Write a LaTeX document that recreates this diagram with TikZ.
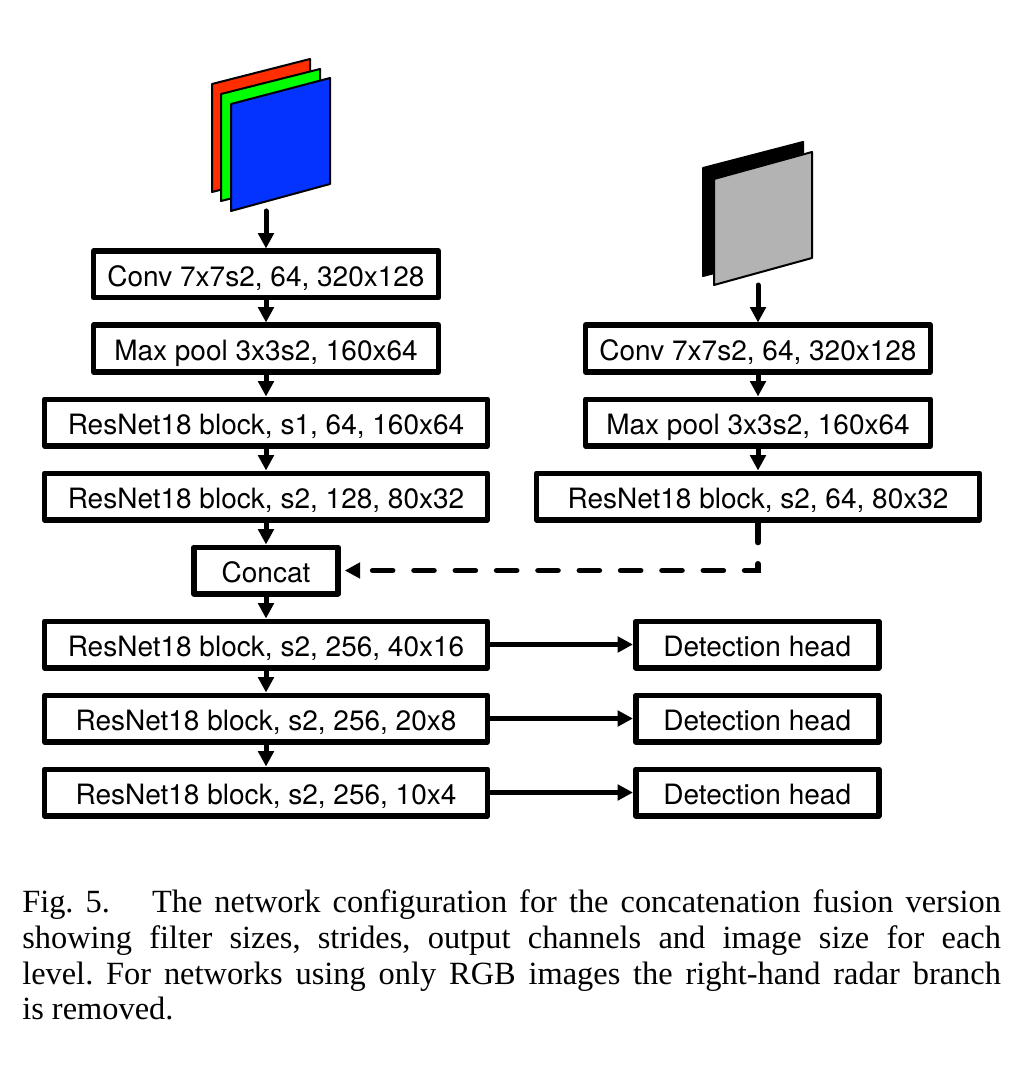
\documentclass[tikz,border=0pt]{standalone}
\usepackage{fontspec}
\setmainfont{Liberation Serif}
\setsansfont{TeX Gyre Heros}
\usetikzlibrary{arrows.meta, positioning}
\definecolor{slabred}{HTML}{FF2D00}
\definecolor{slabgreen}{HTML}{00FF00}
\definecolor{slabblue}{HTML}{0433FF}
\definecolor{slabgrey}{HTML}{B3B3B3}
\tikzset{
  block/.style={rectangle, draw=black, line width=4.2pt, line join=round, fill=white,
    minimum height=34.8pt, inner sep=0pt, align=center, font=\sffamily\fontsize{21}{24}\selectfont,
    text height=19pt, text depth=1pt},
  blockWide/.style={block, minimum width=332.25pt},
  blockNarrow/.style={block, minimum width=258.75pt},
  blockConcat/.style={block, minimum width=108pt},
  blockHead/.style={block, minimum width=182.25pt},
  arrow/.style={-{Triangle[length=11.5pt, width=11.5pt]}, line width=3.75pt, black},
  arrowd/.style={arrow, line width=4.2pt, line cap=round, dash pattern=on 15pt off 16pt, shorten >=3pt},
  slab/.style={draw=black, line width=1.5pt, line join=round},
}

\begin{document}
\begin{tikzpicture}[x=0.75pt, y=-0.75pt, node distance=16.5pt]
\useasboundingbox (0,0) rectangle (1022,1069);

% camera image
\draw[slab, fill=slabred] (212,84) -- (310,59) -- (310,167) -- (212,192) -- cycle;
\draw[slab, fill=slabgreen] (221,94) -- (320,69) -- (320,176) -- (221,201) -- cycle;
\draw[slab, fill=slabblue] (231,104) -- (330,78) -- (330,184) -- (231,211) -- cycle;
% radar image
\draw[slab, fill=black] (703,168) -- (803,142) -- (803,250) -- (703,276) -- cycle;
\draw[slab, fill=slabgrey] (714,179) -- (812,152) -- (812,258) -- (714,285) -- cycle;

\coordinate (rgbout) at (266,211);
\coordinate (radarout) at (758,285);

% rgb branch
\node[blockNarrow] (conv) at (266,274.5) {Conv 7x7s2, 64, 320x128};
\node[blockNarrow, below=of conv] (pool) {Max pool 3x3s2, 160x64};
\node[blockWide, below=of pool] (res1) {ResNet18 block, s1, 64, 160x64};
\node[blockWide, below=of res1] (res2) {ResNet18 block, s2, 128, 80x32};
\node[blockConcat, below=of res2] (concat) {Concat};
\node[blockWide, below=of concat] (res3) {ResNet18 block, s2, 256, 40x16};
\node[blockWide, below=of res3] (res4) {ResNet18 block, s2, 256, 20x8};
\node[blockWide, below=of res4] (res5) {ResNet18 block, s2, 256, 10x4};

% radar branch
\node[blockNarrow] (convr) at (758,348.5) {Conv 7x7s2, 64, 320x128};
\node[blockNarrow, below=of convr] (poolr) {Max pool 3x3s2, 160x64};
\node[blockWide, below=of poolr] (resr) {ResNet18 block, s2, 64, 80x32};

% heads
\node[blockHead, right=107pt of res3] (head1) {Detection head};
\node[blockHead, right=107pt of res4] (head2) {Detection head};
\node[blockHead, right=107pt of res5] (head3) {Detection head};

\node[inner sep=0pt, anchor=north west, text width=734pt, align=justify,
  font=\fontsize{24.3}{26.8}\selectfont] (caption) at (22,889.5)
  {\frenchspacing Fig. 5.\hspace{1.3em}The network configuration for the concatenation fusion version\linebreak
  showing filter sizes, strides, output channels and image size for each\linebreak
  level. For networks using only RGB images the right-hand radar branch\linebreak
  is removed.};

\draw[arrow, line cap=round] (rgbout) -- (conv);
\draw[arrow] (conv) -- (pool);
\draw[arrow] (pool) -- (res1);
\draw[arrow] (res1) -- (res2);
\draw[arrow] (res2) -- (concat);
\draw[arrow] (concat) -- (res3);
\draw[arrow] (res3) -- (res4);
\draw[arrow] (res4) -- (res5);
\draw[arrow, line cap=round] (radarout) -- (convr);
\draw[arrow] (convr) -- (poolr);
\draw[arrow] (poolr) -- (resr);
\draw[arrowd] (resr) |- (concat);
\draw[arrow] (res3) -- (head1);
\draw[arrow] (res4) -- (head2);
\draw[arrow] (res5) -- (head3);
\end{tikzpicture}
\end{document}
